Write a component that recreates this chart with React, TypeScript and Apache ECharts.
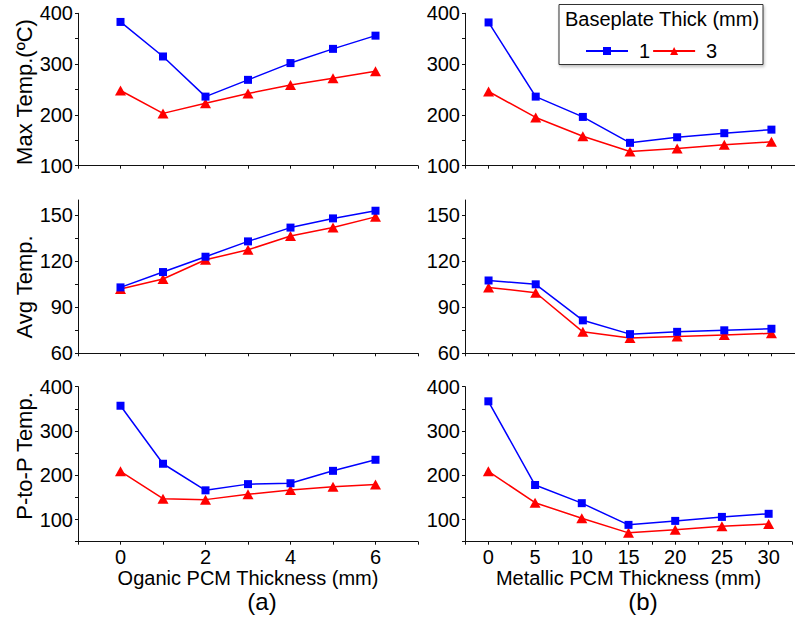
import React, { useEffect, useRef } from "react";
import * as echarts from "echarts";

// ---- data ----
const organicX = [0, 1, 2, 3, 4, 5, 6];
const metallicX = [0, 5, 10, 15, 20, 25, 30];

const maxOrganic1 = [383, 315, 236, 269, 302, 330, 356];
const maxOrganic3 = [248, 203, 223, 242, 259, 272, 286];
const maxMetallic1 = [382, 236, 196, 145, 156, 164, 171];
const maxMetallic3 = [246, 195, 158, 128, 134, 141, 147];

const avgOrganic1 = [103, 113, 123, 133, 142, 148, 153];
const avgOrganic3 = [102, 108.5, 121, 127.5, 136.5, 142, 149];
const avgMetallic1 = [107.5, 105, 81.5, 72.5, 74, 75, 76];
const avgMetallic3 = [103, 99.5, 74, 70, 71, 72, 73];

const ppOrganic1 = [357, 226, 166, 180, 182, 210, 235];
const ppOrganic3 = [209, 147, 145, 157, 167, 174, 179];
const ppMetallic1 = [367, 178, 137, 88, 97, 106, 113];
const ppMetallic3 = [209, 138, 103, 70, 77, 85, 90];

const legendTitle = "Baseplate Thick (mm)";
const seriesNames = ["1", "3"];
const rowTitles = ["Max Temp.(ºC)", "Avg Temp.", "P-to-P Temp."];
const xTitles = ["Oganic PCM Thickness (mm)", "Metallic PCM Thickness (mm)"];
const panelTags = ["(a)", "(b)"];

const FONT = "'Liberation Sans', Arial, sans-serif";
const BLUE = "#0000FF";
const RED = "#FF0000";
const AXIS = "#111";

const pairs = (xs: number[], ys: number[]) => xs.map((x, i) => [x, ys[i]]);

export default function App() {
  const ref = useRef<HTMLDivElement>(null);

  useEffect(() => {
    if (!ref.current) return;
    const chart = echarts.init(ref.current, undefined, { renderer: "svg" });

    const colLeft = [78, 465];
    const colWidth = [340, 339];
    const rowTop = [13.3, 200, 386.7];
    const rowHeight = [152.4, 153.3, 155];

    const grids: any[] = [];
    const xAxes: any[] = [];
    const yAxes: any[] = [];
    const series: any[] = [];
    const axisLines: any[] = [];

    const yCfg = [
      { min: 100, max: 400, interval: 50, labelStep: 100, ticks: null as number[] | null },
      { min: 60, max: 160, interval: 15, labelStep: 30, ticks: [60, 75, 90, 105, 120, 135, 150] },
      { min: 50, max: 400, interval: 50, labelStep: 100, ticks: null as number[] | null },
    ];
    const xCfg = [
      { min: -1, max: 7, interval: 1, labelStep: 2, lo: 0, hi: 6 },
      { min: -2.5, max: 32.5, interval: 2.5, labelStep: 5, lo: 0, hi: 30 },
    ];
    const rowData = [
      [[maxOrganic1, maxOrganic3], [maxMetallic1, maxMetallic3]],
      [[avgOrganic1, avgOrganic3], [avgMetallic1, avgMetallic3]],
      [[ppOrganic1, ppOrganic3], [ppMetallic1, ppMetallic3]],
    ];
    const xs = [organicX, metallicX];

    const labelStyle = { color: "#000", fontSize: 20, fontFamily: FONT };

    let gi = 0;
    for (let r = 0; r < 3; r++) {
      for (let c = 0; c < 2; c++) {
        grids.push({
          left: colLeft[c],
          width: colWidth[c],
          top: rowTop[r],
          height: rowHeight[r],
          containLabel: false,
        });
        // left frame line of each panel (y axis line)
        axisLines.push({
          type: "line",
          shape: {
            x1: colLeft[c] + 0.5,
            y1: rowTop[r],
            x2: colLeft[c] + 0.5,
            y2: rowTop[r] + rowHeight[r],
          },
          style: { stroke: AXIS, lineWidth: 1 },
          z: 10,
        });
        const xc = xCfg[c];
        const isBottom = r === 2;
        xAxes.push({
          type: "value",
          gridIndex: gi,
          position: "bottom",
          min: xc.min,
          max: xc.max,
          interval: xc.interval,
          axisLine: { show: true, lineStyle: { color: AXIS, width: 1 } },
          axisTick: { show: true, length: 3, inside: false, lineStyle: { color: AXIS } },
          splitLine: { show: false },
          axisLabel: {
            show: isBottom,
            ...labelStyle,
            margin: 5,
            showMinLabel: true,
            showMaxLabel: true,
            formatter: (v: number) => {
              const k = Math.round(v * 100) / 100;
              return k >= xc.lo && k <= xc.hi && Math.abs(k % xc.labelStep) < 1e-6 ? String(k) : "";
            },
          },
          name: isBottom ? xTitles[c] : "",
          nameLocation: "middle",
          nameGap: 26,
          nameTextStyle: { color: "#000", fontSize: 20, fontFamily: FONT },
        });
        const yc = yCfg[r];
        const yTick: any = { show: true, length: 3, inside: false, lineStyle: { color: AXIS } };
        if (yc.ticks) yTick.customValues = yc.ticks;
        yAxes.push({
          type: "value",
          gridIndex: gi,
          position: "left",
          min: yc.min,
          max: yc.max,
          interval: yc.interval,
          axisLine: { show: true, onZero: false, lineStyle: { color: AXIS, width: 1 } },
          axisTick: yTick,
          splitLine: { show: false },
          axisLabel: {
            ...labelStyle,
            margin: 5,
            formatter: (v: number) => (Math.abs(v % yc.labelStep) < 1e-6 ? String(v) : ""),
          },
        });
        const [d1, d3] = rowData[r][c];
        series.push({
          type: "line",
          name: seriesNames[0],
          xAxisIndex: gi,
          yAxisIndex: gi,
          data: pairs(xs[c], d1),
          symbol: "rect",
          symbolSize: 8,
          color: BLUE,
          itemStyle: { color: BLUE },
          lineStyle: { color: BLUE, width: 1.5 },
          z: 3,
        });
        series.push({
          type: "line",
          name: seriesNames[1],
          xAxisIndex: gi,
          yAxisIndex: gi,
          data: pairs(xs[c], d3),
          symbol: "triangle",
          symbolSize: [11, 10],
          color: RED,
          itemStyle: { color: RED },
          lineStyle: { color: RED, width: 1.5 },
          z: 2,
        });
        gi++;
      }
    }

    const yTitlePos = [
      [24, 92],
      [24, 287],
      [24, 456],
    ];

    const graphic: any[] = [
      ...axisLines,
      {
        type: "rect",
        shape: { x: 559, y: 4.5, width: 204, height: 60 },
        style: {
          fill: "#fff",
          stroke: "#333",
          lineWidth: 1,
          shadowBlur: 3,
          shadowOffsetX: 1,
          shadowOffsetY: 2,
          shadowColor: "rgba(0,0,0,0.25)",
        },
        z: 0,
      },
      {
        type: "text",
        x: 662,
        y: 19,
        style: {
          text: legendTitle,
          fill: "#000",
          font: `20px ${FONT}`,
          textAlign: "center",
          textVerticalAlign: "middle",
        },
        z: 1,
      },
      ...rowTitles.map((t, i) => ({
        type: "text",
        x: yTitlePos[i][0],
        y: yTitlePos[i][1],
        rotation: Math.PI / 2,
        style: {
          text: t,
          fill: "#000",
          font: `22px ${FONT}`,
          textAlign: "center",
          textVerticalAlign: "middle",
        },
      })),
      ...panelTags.map((t, i) => ({
        type: "text",
        x: [262, 643][i],
        y: 601,
        style: {
          text: t,
          fill: "#000",
          font: `24px ${FONT}`,
          textAlign: "center",
          textVerticalAlign: "middle",
        },
      })),
    ];

    chart.setOption({
      animation: false,
      backgroundColor: "#fff",
      grid: grids,
      xAxis: xAxes,
      yAxis: yAxes,
      series,
      graphic,
      legend: {
        data: seriesNames,
        left: 585,
        top: 41,
        padding: 0,
        itemWidth: 42,
        itemHeight: 10,
        itemGap: 2,
        selectedMode: false,
        textStyle: { color: "#000", fontSize: 20, fontFamily: FONT, padding: [0, 0, 0, 6] },
        z: 5,
      },
    });

    return () => chart.dispose();
  }, []);

  return (
    <div
      ref={ref}
      style={{ position: "absolute", left: 0, top: 0, width: 795, height: 624 }}
    />
  );
}
